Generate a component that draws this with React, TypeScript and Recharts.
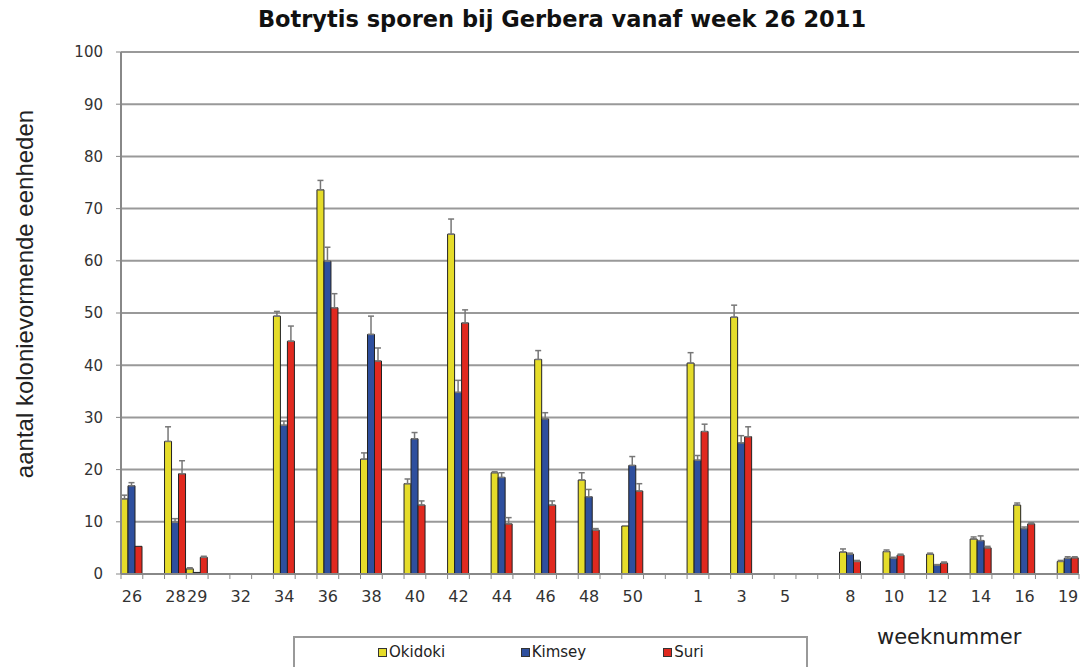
import { BarChart, Bar, XAxis, YAxis, CartesianGrid, Legend, ErrorBar } from "recharts"

// axis positions, one per category slot (empty = spacer slot)
const axisSlots = [
  "26", "", "28", "29", "", "32", "", "34", "", "36", "", "38", "", "40", "",
  "42", "", "44", "", "46", "", "48", "", "50", "", "", "1", "", "3", "", "5",
  "", "", "8", "", "10", "", "12", "", "14", "", "16", "", "19",
]

const weeks = ["26", "28", "29", "32", "34", "36", "38", "40", "42", "44", "46", "48", "50", "1", "3", "5", "8", "10", "12", "14", "16", "19"]

const seriesNames = ["Okidoki", "Kimsey", "Suri"]

const okidoki = [14.4, 25.4, 1.0, null, 49.4, 73.6, 22.0, 17.3, 65.1, 19.4, 41.1, 18.0, 9.2, 40.4, 49.2, null, 4.2, 4.3, 3.8, 6.7, 13.2, 2.4]
const kimsey = [16.9, 9.9, 0.3, null, 28.5, 59.9, 45.9, 25.9, 34.8, 18.5, 29.7, 14.8, 20.8, 21.8, 25.1, null, 3.8, 3.0, 1.7, 6.4, 8.7, 3.0]
const suri = [5.3, 19.2, 3.2, null, 44.6, 51.0, 40.8, 13.2, 48.1, 9.6, 13.2, 8.4, 15.9, 27.3, 26.3, null, 2.4, 3.6, 2.1, 5.0, 9.6, 3.1]

// upper error only
const okidokiErr = [0.7, 2.8, 0.2, null, 0.9, 1.8, 1.2, 0.9, 2.9, 0.2, 1.7, 1.4, null, 2.0, 2.3, null, 0.6, 0.3, 0.2, 0.4, 0.4, 0.2]
const kimseyErr = [0.6, 0.7, null, null, 0.8, 2.7, 3.5, 1.2, 2.3, 0.9, 1.2, 1.4, 1.7, 0.9, 1.4, null, 0.2, 0.2, 0.1, 0.9, 0.3, 0.3]
const suriErr = [null, 2.5, 0.2, null, 2.9, 2.7, 2.5, 0.8, 2.5, 1.2, 0.8, 0.3, 1.4, 1.4, 1.9, null, 0.2, 0.2, 0.2, 0.3, 0.2, 0.2]

const yTicks = [0, 10, 20, 30, 40, 50, 60, 70, 80, 90, 100]

const up = (v: number | null) => (v == null ? undefined : [0, v])

const table = axisSlots.map((label, i) => {
  const k = label ? weeks.indexOf(label) : -1
  if (k < 0) return { week: label, slot: i }
  return {
    week: label,
    slot: i,
    okidoki: okidoki[k],
    kimsey: kimsey[k],
    suri: suri[k],
    okidokiErr: up(okidokiErr[k]),
    kimseyErr: up(kimseyErr[k]),
    suriErr: up(suriErr[k]),
  }
})

const W = 1081
const H = 667
const Y_AXIS_W = 121
const RIGHT = 2
const BAND = (W - Y_AXIS_W - RIGHT) / axisSlots.length

const WeekTick = (props: any) => {
  const { x, y, payload } = props
  const i = props.index ?? payload.index
  return (
    <g>
      <line x1={x - BAND / 2} x2={x - BAND / 2} y1={y} y2={y + 5} stroke="#888" />
      {i === axisSlots.length - 1 && (
        <line x1={x + BAND / 2} x2={x + BAND / 2} y1={y} y2={y + 5} stroke="#888" />
      )}
      <text x={x} y={y + 28} textAnchor="middle" fontFamily="DejaVu Sans" fontSize={16} fill="#333">
        {axisSlots[i]}
      </text>
    </g>
  )
}

const renderLegend = ({ payload }: any) => {
  const items = [...(payload || [])].sort(
    (a: any, b: any) => seriesNames.indexOf(a.value) - seriesNames.indexOf(b.value)
  )
  return (
    <div style={{ display: "flex", paddingLeft: 83, paddingTop: 5 }}>
      {items.map((p: any) => (
        <div key={p.value} style={{ width: 150, display: "flex", alignItems: "center" }}>
          <span
            style={{
              display: "inline-block",
              width: 7,
              height: 7,
              background: p.color,
              border: "1px solid #333",
              marginRight: 2,
            }}
          />
          <span style={{ fontFamily: "DejaVu Sans", fontSize: 15, color: "#222" }}>{p.value}</span>
        </div>
      ))}
    </div>
  )
}

export default function App() {
  return (
    <div style={{ position: "absolute", left: 0, top: 0, width: W, height: H, background: "#fff", overflow: "hidden" }}>
      <div
        style={{
          position: "absolute",
          left: 562,
          top: 6,
          transform: "translateX(-50%)",
          whiteSpace: "nowrap",
          fontFamily: "DejaVu Sans",
          fontWeight: "bold",
          fontSize: 22.5,
          color: "#111",
        }}
      >
        Botrytis sporen bij Gerbera vanaf week 26 2011
      </div>
      <div
        style={{
          position: "absolute",
          left: 25,
          top: 294,
          transform: "translate(-50%, -50%) rotate(-90deg)",
          whiteSpace: "nowrap",
          fontFamily: "Liberation Sans",
          fontSize: 24,
          color: "#222",
        }}
      >
        aantal kolonievormende eenheden
      </div>
      <div
        style={{
          position: "absolute",
          left: 877,
          top: 625,
          whiteSpace: "nowrap",
          fontFamily: "DejaVu Sans",
          fontSize: 21,
          color: "#222",
        }}
      >
        weeknummer
      </div>
      <BarChart
        width={W}
        height={H}
        data={table}
        margin={{ top: 52, right: RIGHT, bottom: 63, left: 0 }}
        barCategoryGap={0}
        barGap={0}
      >
        <CartesianGrid vertical={false} stroke="#999" strokeWidth={2} />
        <XAxis
          dataKey="week"
          interval={0}
          height={30}
          tickSize={0}
          tickMargin={0}
          tick={<WeekTick />}
          axisLine={{ stroke: "#888", strokeWidth: 2 }}
        />
        <YAxis
          domain={[0, 100]}
          ticks={yTicks}
          width={Y_AXIS_W}
          tickSize={5}
          tickMargin={13}
          axisLine={{ stroke: "#888", strokeWidth: 2 }}
          tickLine={{ stroke: "#888" }}
          tick={{ fontFamily: "DejaVu Sans", fontSize: 15, fill: "#333" }}
        />
        <Legend
          layout="vertical"
          align="center"
          verticalAlign="middle"
          content={renderLegend}
          wrapperStyle={{
            left: 293,
            top: 636,
            width: 515,
            height: 40,
            border: "2px solid #999",
            background: "#fff",
            boxSizing: "border-box",
          }}
        />
        <Bar dataKey="okidoki" name="Okidoki" fill="#e5dc2a" stroke="#222" isAnimationActive={false}>
          <ErrorBar dataKey="okidokiErr" width={3} stroke="#777" direction="y" />
        </Bar>
        <Bar dataKey="kimsey" name="Kimsey" fill="#2e4f9e" stroke="#222" isAnimationActive={false}>
          <ErrorBar dataKey="kimseyErr" width={3} stroke="#777" direction="y" />
        </Bar>
        <Bar dataKey="suri" name="Suri" fill="#e0291f" stroke="#222" isAnimationActive={false}>
          <ErrorBar dataKey="suriErr" width={3} stroke="#777" direction="y" />
        </Bar>
      </BarChart>
    </div>
  )
}
